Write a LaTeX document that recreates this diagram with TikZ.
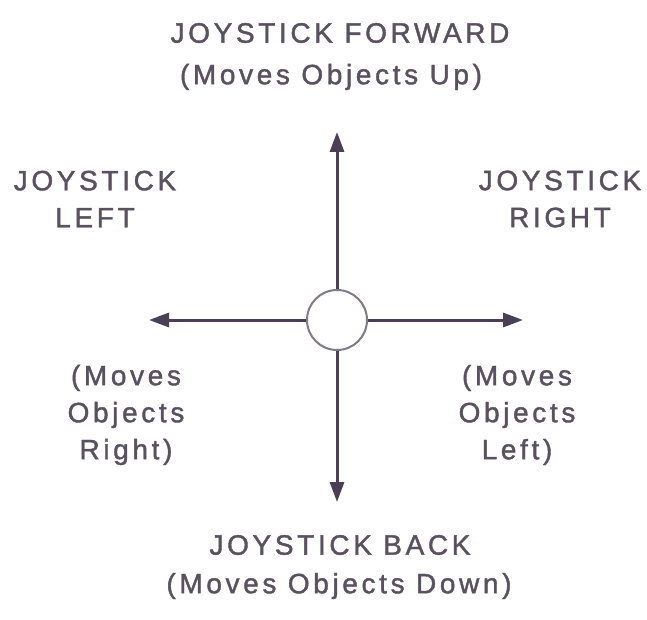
\documentclass[tikz,border=0pt]{standalone}
\usepackage{fontspec}
\setmainfont{Liberation Sans}[LetterSpace=13,FakeBold=1.4]
\usetikzlibrary{arrows.meta}
\definecolor{ink}{HTML}{4A3F55}
\definecolor{txt}{HTML}{5A5060}
\begin{document}
\begin{tikzpicture}[x=1pt,y=1pt,
  lbl/.style={text=txt,font=\fontsize{28}{37}\selectfont,align=center,inner sep=0pt,anchor=center},
  axis/.style={draw=ink,line width=3pt,-{Triangle[length=20pt,width=14pt]}},
  hub/.style={circle,draw=ink!70,line width=2pt,fill=white,minimum size=60pt,inner sep=0pt}]
\useasboundingbox (0,0) rectangle (647,-620);
\node[hub] (c) at (337,-320) {};
\coordinate (up) at (337,-132);
\coordinate (dn) at (337,-502);
\coordinate (lt) at (149,-320);
\coordinate (rt) at (523,-320);
\draw[axis] (c.north) -- (up);
\draw[axis] (c.south) -- (dn);
\draw[axis] (c.west) -- (lt);
\draw[axis] (c.east) -- (rt);
\node[lbl] (fw) at (340,-33) {JOYSTICK FORWARD};
\node[lbl] (fws) at (331,-77) {(Moves Objects Up)};
\node[lbl] (lf) at (95,-199) {JOYSTICK\\LEFT};
\node[lbl] (rg) at (560,-199) {JOYSTICK\\RIGHT};
\node[lbl] (lfs) at (126,-415) {(Moves\\Objects\\Right)};
\node[lbl] (rgs) at (517,-415) {(Moves\\Objects\\Left)};
\node[lbl] (bk) at (340,-545) {JOYSTICK BACK};
\node[lbl] (bks) at (339,-586) {(Moves Objects Down)};
\end{tikzpicture}
\end{document}
